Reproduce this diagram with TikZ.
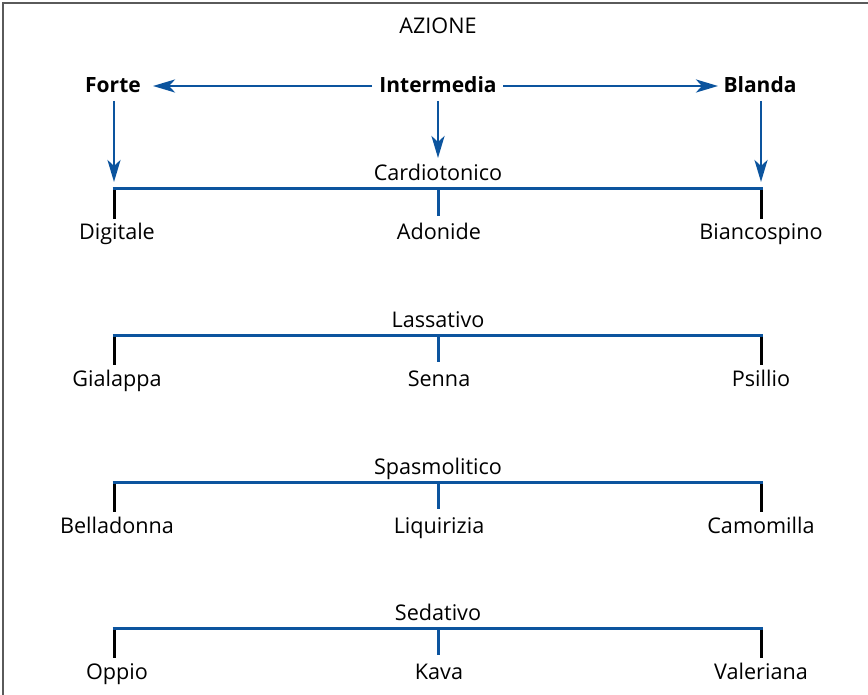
\documentclass[tikz,border=0pt]{standalone}
\usepackage{fontspec}
\setmainfont{Open Sans}
\usetikzlibrary{arrows.meta}
\definecolor{blu}{RGB}{12,84,158}
\definecolor{frm}{RGB}{90,90,90}
\tikzset{
  x=1pt,y=-1pt,
  txt/.style={inner sep=0pt,anchor=base,font=\fontsize{21.6}{24}\selectfont},
  head/.style={txt,font=\fontsize{21}{24}\selectfont\bfseries},
  arr/.style={blu,line width=2.8pt,-{Stealth[length=22pt,width=13pt,inset=6pt]}},
  bar/.style={blu,line width=3pt},
  tickk/.style={black,line width=3pt},
  tickb/.style={blu,line width=3pt}
}
\begin{document}
\begin{tikzpicture}
\useasboundingbox (0,0) rectangle (868,695);
\draw[frm,line width=1.6pt] (3,695) -- (3,3) -- (868,3);
\node[txt] (az) at (438,34) {AZIONE};
\node[head] (forte) at (113,93) {Forte};
\node[head] (inter) at (438,93) {Intermedia};
\node[head] (bland) at (760,93) {Blanda};
\coordinate (iw) at (372,86);
\coordinate (ie) at (503,86);
\coordinate (fe) at (153,86);
\coordinate (be) at (718,86);
\draw[arr] (iw) -- (fe);
\draw[arr] (ie) -- (be);
\coordinate (fs) at (114,101);
\coordinate (is) at (438,101);
\coordinate (bs) at (761,101);
\draw[arr] (fs) -- (114,182);
\draw[arr] (is) -- (438,158);
\draw[arr] (bs) -- (761,182);
\foreach \r/\y/\lab/\a/\b/\c in {1/189/Cardiotonico/Digitale/Adonide/Biancospino,
  2/335/Lassativo/Gialappa/Senna/Psillio,
  3/482/Spasmolitico/Belladonna/Liquirizia/Camomilla,
  4/628/Sedativo/Oppio/Kava/Valeriana}{
  \coordinate (L\r) at (114,\y);
  \coordinate (M\r) at (438,\y);
  \coordinate (R\r) at (761,\y);
  \node[txt] (cat\r) at (438,\y-8) {\lab};
  \node[txt] (a\r) at (117,\y+51) {\a};
  \node[txt] (b\r) at (439,\y+51) {\b};
  \node[txt] (c\r) at (761,\y+51) {\c};
  \draw[bar] ([xshift=-1.5pt]L\r) -- ([xshift=1.5pt]R\r);
  \draw[tickk] ([yshift=-1.5pt]L\r) -- ++(0,28.5);
  \draw[tickb] (M\r) -- ++(0,27);
  \draw[tickk] ([yshift=-1.5pt]R\r) -- ++(0,28.5);
}
\end{tikzpicture}
\end{document}
